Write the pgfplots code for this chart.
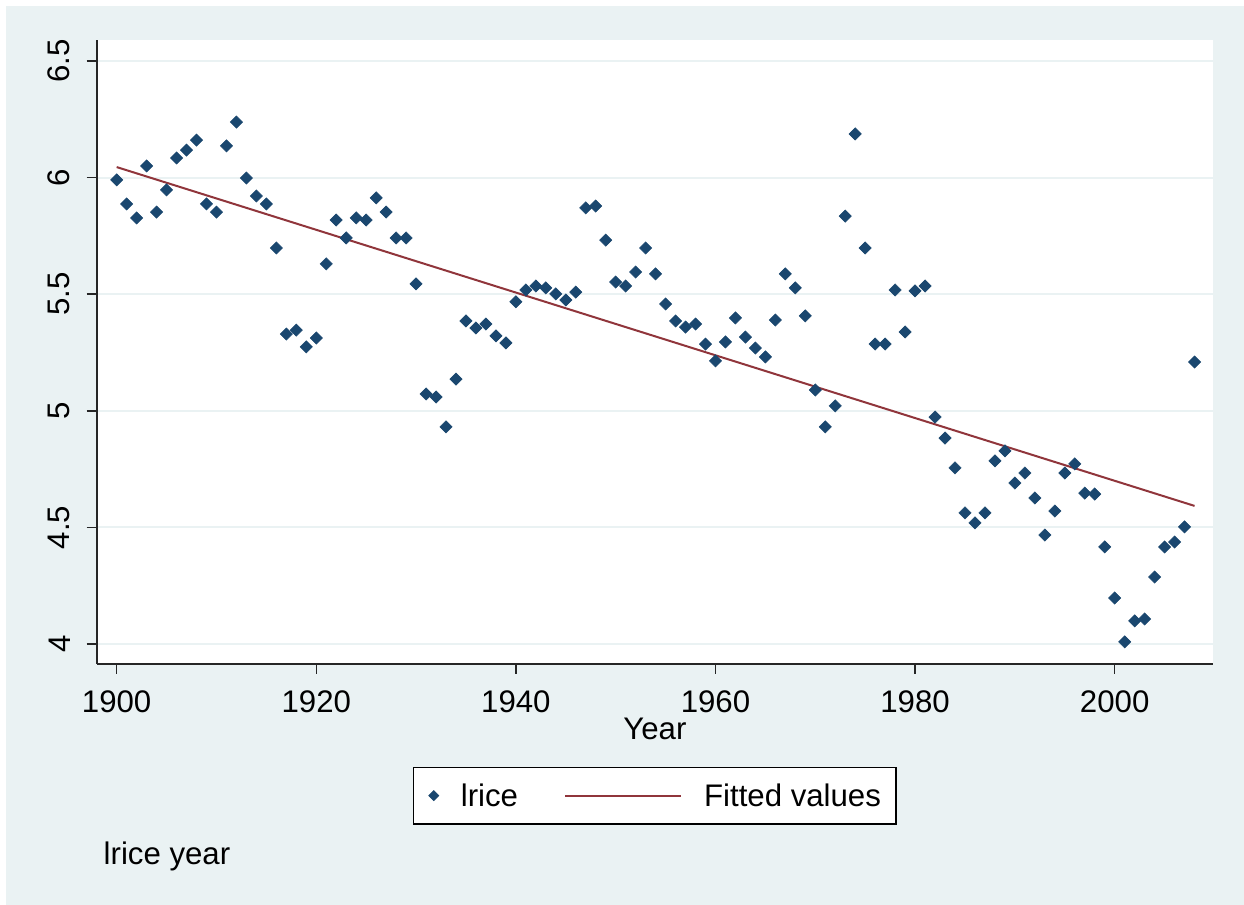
\documentclass[border=0pt]{standalone}
\usepackage{fontspec}
\setmainfont{Liberation Sans}
\usepackage{pgfplots}
\pgfplotsset{compat=1.18}
\definecolor{stnavy}{RGB}{26,71,111}
\definecolor{stmaroon}{RGB}{144,53,59}
\definecolor{stbg}{RGB}{234,242,243}
\pgfplotsset{
  scatleg/.style={legend image code/.code={\draw[##1, mark size=1.8pt] plot coordinates {(0pt,0pt)};}},
  lineleg/.style={legend image code/.code={\draw[##1] (0pt,0pt) -- (58pt,0pt);}},
}

\begin{document}
\fontsize{15.6}{18}\selectfont
\begin{tikzpicture}
% page: 1244x905 px at 0.5pt per px
\fill[white] (0,0) rectangle (622pt,452.5pt);
\fill[stbg] (3pt,0) rectangle (622pt,449.5pt);
\begin{axis}[at={(48.35pt,120.5pt)}, anchor=south west, scale only axis,
  width=558.15pt, height=312pt,
  xmin=1898, xmax=2009.85, ymin=3.914, ymax=6.59,
  axis background/.style={fill=white},
  axis x line*=bottom, axis y line*=left,
  axis line style={-, line width=1pt, black!85},
  xtick={1900,1920,...,2000}, ytick={4,4.5,...,6.5},
  tick align=outside, major tick length=5pt,
  tick style={line width=0.75pt, black!85},
  ymajorgrids, grid style={stbg, line width=1pt},
  /pgf/number format/assume math mode=true,
  /pgf/number format/1000 sep={},
  xticklabel style={anchor=north, inner sep=0pt, yshift=-8pt},
  yticklabel style={xshift=-8pt, rotate=90, anchor=south, inner sep=0pt},
  xlabel={Year},
  xlabel style={at={(axis description cs:0.5,0)}, anchor=north, inner sep=0pt, yshift=-27pt},
  legend columns=2,
  legend style={at={(0.5,0)}, anchor=north, yshift=-51.35pt,
    draw=black, line width=0.6pt, fill=white,
    inner xsep=7.5pt, inner ysep=8.5pt,
    nodes={inner sep=0pt, text depth=0pt},
    /tikz/every odd column/.append style={column sep=11pt},
    /tikz/column 2/.append style={column sep=23pt}},
]
\addplot[only marks, mark=square*, color=stnavy, mark size=2.15pt,
  mark options={rotate=45, line width=0.3pt}, scatleg]
coordinates {
(1900,5.990) (1901,5.887) (1902,5.827) (1903,6.050) (1904,5.852) (1905,5.947)
(1906,6.084) (1907,6.118) (1908,6.161) (1909,5.887) (1910,5.852) (1911,6.136)
(1912,6.238) (1913,5.998) (1914,5.921) (1915,5.887) (1916,5.698) (1917,5.329)
(1918,5.346) (1919,5.274) (1920,5.312) (1921,5.630) (1922,5.818) (1923,5.741)
(1924,5.827) (1925,5.818) (1926,5.913) (1927,5.852) (1928,5.741) (1929,5.741)
(1930,5.544) (1931,5.072) (1932,5.059) (1933,4.931) (1934,5.136) (1935,5.385)
(1936,5.355) (1937,5.372) (1938,5.321) (1939,5.291) (1940,5.467) (1941,5.518)
(1942,5.535) (1943,5.527) (1944,5.501) (1945,5.475) (1946,5.509) (1947,5.870)
(1948,5.878) (1949,5.732) (1950,5.552) (1951,5.535) (1952,5.595) (1953,5.698)
(1954,5.587) (1955,5.458) (1956,5.385) (1957,5.359) (1958,5.372) (1959,5.286)
(1960,5.214) (1961,5.295) (1962,5.398) (1963,5.316) (1964,5.269) (1965,5.231)
(1966,5.389) (1967,5.587) (1968,5.527) (1969,5.407) (1970,5.089) (1971,4.931)
(1972,5.021) (1973,5.835) (1974,6.187) (1975,5.698) (1976,5.286) (1977,5.286)
(1978,5.518) (1979,5.338) (1980,5.514) (1981,5.535) (1982,4.973) (1983,4.883)
(1984,4.755) (1985,4.562) (1986,4.519) (1987,4.562) (1988,4.785) (1989,4.828)
(1990,4.690) (1991,4.733) (1992,4.626) (1993,4.467) (1994,4.570) (1995,4.733)
(1996,4.772) (1997,4.647) (1998,4.643) (1999,4.416) (2000,4.197) (2001,4.009)
(2002,4.099) (2003,4.107) (2004,4.287) (2005,4.416) (2006,4.437) (2007,4.502)
(2008,5.209)
};
\addlegendentry{lrice}
\addplot[color=stmaroon, line width=1pt, no marks, lineleg]
coordinates {(1900,6.045) (2008,4.592)};
\addlegendentry{Fitted values}
\end{axis}
\node[anchor=base west, inner sep=0pt] at (51.65pt,20pt) {lrice year};
\end{tikzpicture}
\end{document}
